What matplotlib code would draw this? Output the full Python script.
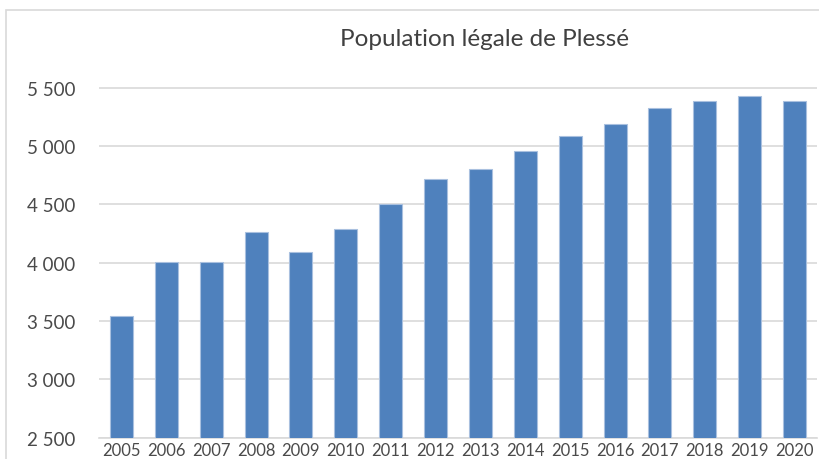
import matplotlib
matplotlib.use("Agg")
import matplotlib.pyplot as plt
from matplotlib.patches import Rectangle
from matplotlib.ticker import FuncFormatter

years = ["2005", "2006", "2007", "2008", "2009", "2010", "2011", "2012",
         "2013", "2014", "2015", "2016", "2017", "2018", "2019", "2020"]
population = [3546, 4003, 4003, 4261, 4090, 4287, 4501, 4712,
              4804, 4953, 5085, 5190, 5325, 5388, 5428, 5388]
y_ticks = [2500, 3000, 3500, 4000, 4500, 5000, 5500]
title = "Population légale de Plessé"

plt.rcParams['font.family'] = ['Lato', 'DejaVu Sans']

fig = plt.figure(figsize=(8.2, 4.6), dpi=100)
fig.patch.set_facecolor("white")
# outer chart border
W, H = 820, 460
fig.patches.append(Rectangle((6 / W, -0.1), 1.2, 1 - 11 / H + 0.1,
                             transform=fig.transFigure, fill=False,
                             edgecolor="#d9d9d9", linewidth=1.2, zorder=0))

left, right = 99 / W, 817 / W
bottom = 1 - 438.7 / H
ymax = 5600
px_per_unit = (438.7 - 88.5) / 3000
top_px = 438.7 - (ymax - 2500) * px_per_unit
top = 1 - top_px / H
ax = fig.add_axes([left, bottom, right - left, top - bottom])

x = range(len(years))
ax.bar(x, population, width=0.51, color="#4f81bd", edgecolor="#a9c0df",
       linewidth=0.8, zorder=3)

ax.set_xlim(-0.5, len(years) - 0.5)
ax.set_ylim(2500, ymax)
ax.set_yticks(y_ticks)
ax.yaxis.set_major_formatter(FuncFormatter(lambda v, p: f"{int(v):,}".replace(",", " ")))
ax.set_xticks(list(x))
ax.set_xticklabels(years)

ax.grid(axis="y", color="#d9d9d9", linewidth=1.2, zorder=0)
for s in ["top", "right", "left"]:
    ax.spines[s].set_visible(False)
ax.spines["bottom"].set_color("#d9d9d9")
ax.spines["bottom"].set_linewidth(1.2)
ax.tick_params(axis="y", length=0, pad=17, labelsize=13.5, labelcolor="#4a4a4a")
ax.tick_params(axis="x", length=0, pad=3, labelsize=12, labelcolor="#4a4a4a")

fig.text(485 / W, 1 - 40 / H, title, ha="center", va="center",
         fontsize=17.5, color="#404040")

fig.savefig("out.png", dpi=100)
